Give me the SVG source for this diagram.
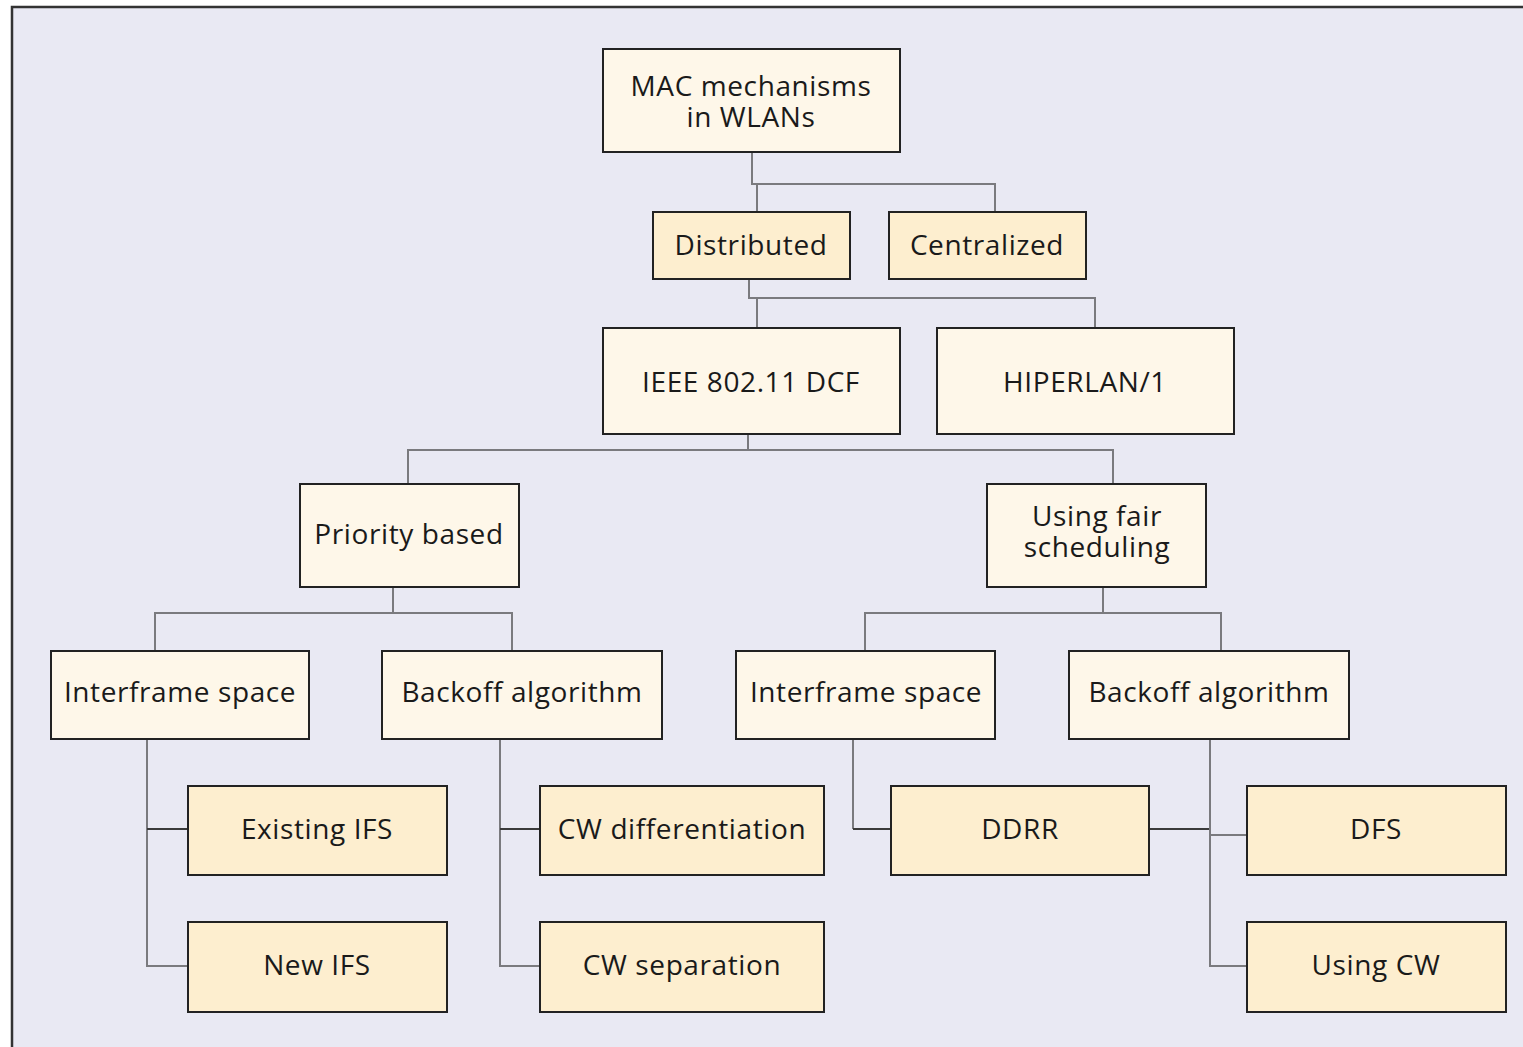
<svg xmlns="http://www.w3.org/2000/svg" width="1523" height="1047" viewBox="0 0 1523 1047">
<style>
.light{fill:#fef7e9;stroke:#222;stroke-width:2}
.dark{fill:#fdeecf;stroke:#222;stroke-width:2}
text{font-family:"Open Sans","Noto Sans","Liberation Sans",sans-serif;font-size:28px;letter-spacing:0.6px;fill:#1a1a1a;text-anchor:middle}
.c{fill:none;stroke:#7a7a7e;stroke-width:2}
.cd{fill:none;stroke:#3a3a3a;stroke-width:2}
</style>
<rect x="0" y="0" width="1523" height="1047" fill="#ffffff"/>
<rect x="12" y="7" width="1530" height="1060" fill="#e9e9f3" stroke="#333" stroke-width="2.5"/>
<g id="connectors">
<path class="c" d="M752 152V184H995V212M757 184V212"/>
<path class="c" d="M749 279V298H1095V328M757 298V328"/>
<path class="c" d="M748 434V450H408V484M748 450H1113V484"/>
<path class="c" d="M393 587V613H155V651M393 613H512V651"/>
<path class="c" d="M1103 587V613H865V651M1103 613H1221V651"/>
<path class="c" d="M147 739V966H188"/>
<path class="cd" d="M147 829H188"/>
<path class="c" d="M500 739V966H540"/>
<path class="cd" d="M500 829H540"/>
<path class="c" d="M853 739V829"/>
<path class="cd" d="M853 829H891"/>
<path class="cd" d="M1149 829H1210"/>
<path class="c" d="M1210 739V966H1247M1210 835H1247"/>
</g>
<g id="n-mac"><rect class="light" x="603" y="49" width="297" height="103"/><text x="751" y="96">MAC mechanisms</text><text x="751" y="127">in WLANs</text></g>
<g id="n-distributed"><rect class="dark" x="653" y="212" width="197" height="67"/><text x="751" y="255">Distributed</text></g>
<g id="n-centralized"><rect class="dark" x="889" y="212" width="197" height="67"/><text x="987" y="255">Centralized</text></g>
<g id="n-ieee"><rect class="light" x="603" y="328" width="297" height="106"/><text x="751" y="392">IEEE 802.11 DCF</text></g>
<g id="n-hiperlan"><rect class="light" x="937" y="328" width="297" height="106"/><text x="1085" y="392">HIPERLAN/1</text></g>
<g id="n-priority"><rect class="light" x="300" y="484" width="219" height="103"/><text x="409" y="544">Priority based</text></g>
<g id="n-fair"><rect class="light" x="987" y="484" width="219" height="103"/><text x="1097" y="526">Using fair</text><text x="1097" y="557">scheduling</text></g>
<g id="n-ifs-l"><rect class="light" x="51" y="651" width="258" height="88"/><text x="180" y="702">Interframe space</text></g>
<g id="n-backoff-l"><rect class="light" x="382" y="651" width="280" height="88"/><text x="522" y="702">Backoff algorithm</text></g>
<g id="n-ifs-r"><rect class="light" x="736" y="651" width="259" height="88"/><text x="866" y="702">Interframe space</text></g>
<g id="n-backoff-r"><rect class="light" x="1069" y="651" width="280" height="88"/><text x="1209" y="702">Backoff algorithm</text></g>
<g id="n-existing"><rect class="dark" x="188" y="786" width="259" height="89"/><text x="317" y="839">Existing IFS</text></g>
<g id="n-new"><rect class="dark" x="188" y="922" width="259" height="90"/><text x="317" y="975">New IFS</text></g>
<g id="n-cwdiff"><rect class="dark" x="540" y="786" width="284" height="89"/><text x="682" y="839">CW differentiation</text></g>
<g id="n-cwsep"><rect class="dark" x="540" y="922" width="284" height="90"/><text x="682" y="975">CW separation</text></g>
<g id="n-ddrr"><rect class="dark" x="891" y="786" width="258" height="89"/><text x="1020" y="839">DDRR</text></g>
<g id="n-dfs"><rect class="dark" x="1247" y="786" width="259" height="89"/><text x="1376" y="839">DFS</text></g>
<g id="n-usingcw"><rect class="dark" x="1247" y="922" width="259" height="90"/><text x="1376" y="975">Using CW</text></g>
</svg>
